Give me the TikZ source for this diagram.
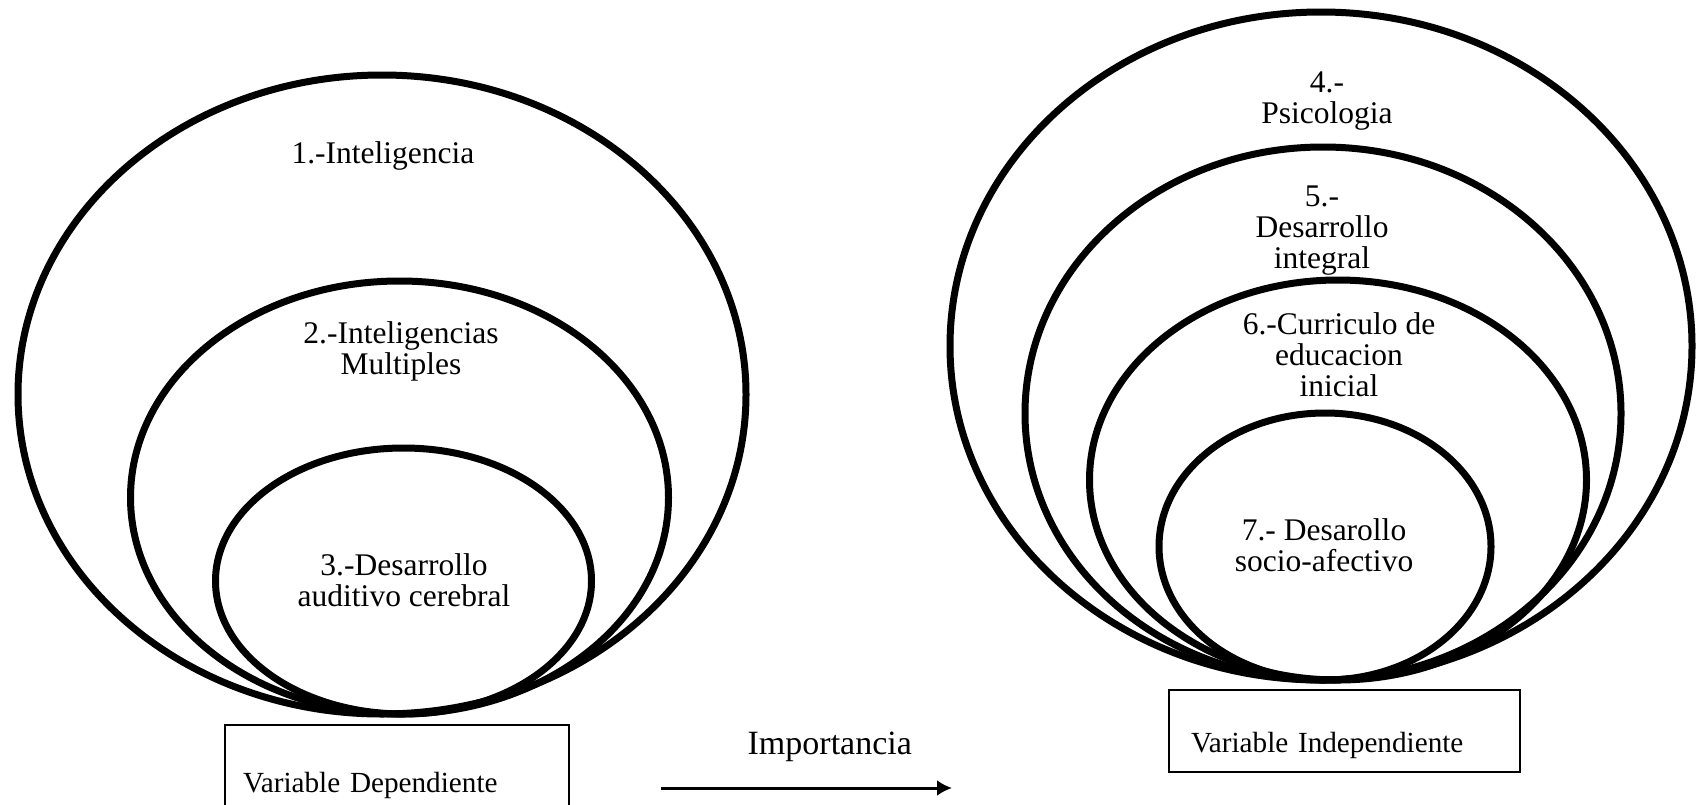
\documentclass[tikz,border=0pt]{standalone}
\usepackage{fontspec}
\setmainfont{Liberation Serif}
\usetikzlibrary{shapes.geometric,arrows.meta}

\begin{document}
\begin{tikzpicture}[x=0.5pt,y=-0.5pt,
      ring/.style={ellipse,draw,line width=3.5pt,inner sep=0pt,outer sep=0pt},
      lbl/.style={align=center,inner sep=0pt,font=\fontsize{15.75pt}{15.5pt}\selectfont},
      varbox/.style={draw,line width=1pt,inner ysep=0pt,outer sep=0pt,align=left,anchor=base west,
        font=\fontsize{14.6pt}{16pt}\selectfont}]

    \useasboundingbox (0,0) rectangle (1697,804);
    \clip (0,0) rectangle (1697,804);

    \node[ring,minimum width=364pt,minimum height=319.5pt] (1) at (382,394.5) {};
    \node[ring,minimum width=269pt,minimum height=216.5pt] (2) at (399.5,497.5) {};
    \node[ring,minimum width=188pt,minimum height=133pt] (3) at (403.5,581) {};
    \node[ring,minimum width=371pt,minimum height=334pt] (4) at (1321,346) {};
    \node[ring,minimum width=298pt,minimum height=266.5pt] (5) at (1323,413.5) {};
    \node[ring,minimum width=248.5pt,minimum height=200pt] (6) at (1338,480) {};
    \node[ring,minimum width=166pt,minimum height=133.5pt] (7) at (1325,546.5) {};

    \node[lbl] (t1) at (383,156) {1.-Inteligencia};
    \node[lbl] (t2) at (401,351) {2.-Inteligencias\\Multiples};
    \node[lbl] (t3) at (404,580) {3.-Desarrollo\\auditivo cerebral};
    \node[lbl] (t4) at (1327,101) {4.-\\Psicologia};
    \node[lbl] (t5) at (1322,231) {5.-\\Desarrollo\\integral};
    \node[lbl] (t6) at (1339,355) {6.-Curriculo de\\educacion\\inicial};
    \node[lbl] (t7) at (1324,545) {7.- Desarollo\\socio-afectivo};

    \node[varbox,inner xsep=9pt,text width=154pt,text height=33.5pt,text depth=14pt] (vd) at (225,792) {Variable Dependiente};
    \node[varbox,inner xsep=11pt,text width=153.25pt,text height=31pt,text depth=10pt] (vi) at (1169,752) {Variable Independiente};

    \coordinate (a1) at (661,788);
    \coordinate (a2) at (952,788);
    \path (a1) edge[-{Latex[length=7.5pt,width=8pt]},line width=1.5pt]
      node[above=12.5pt,pos=0.58,inner sep=0pt,font=\fontsize{17pt}{18pt}\selectfont] {Importancia} (a2);
\end{tikzpicture}
\end{document}
